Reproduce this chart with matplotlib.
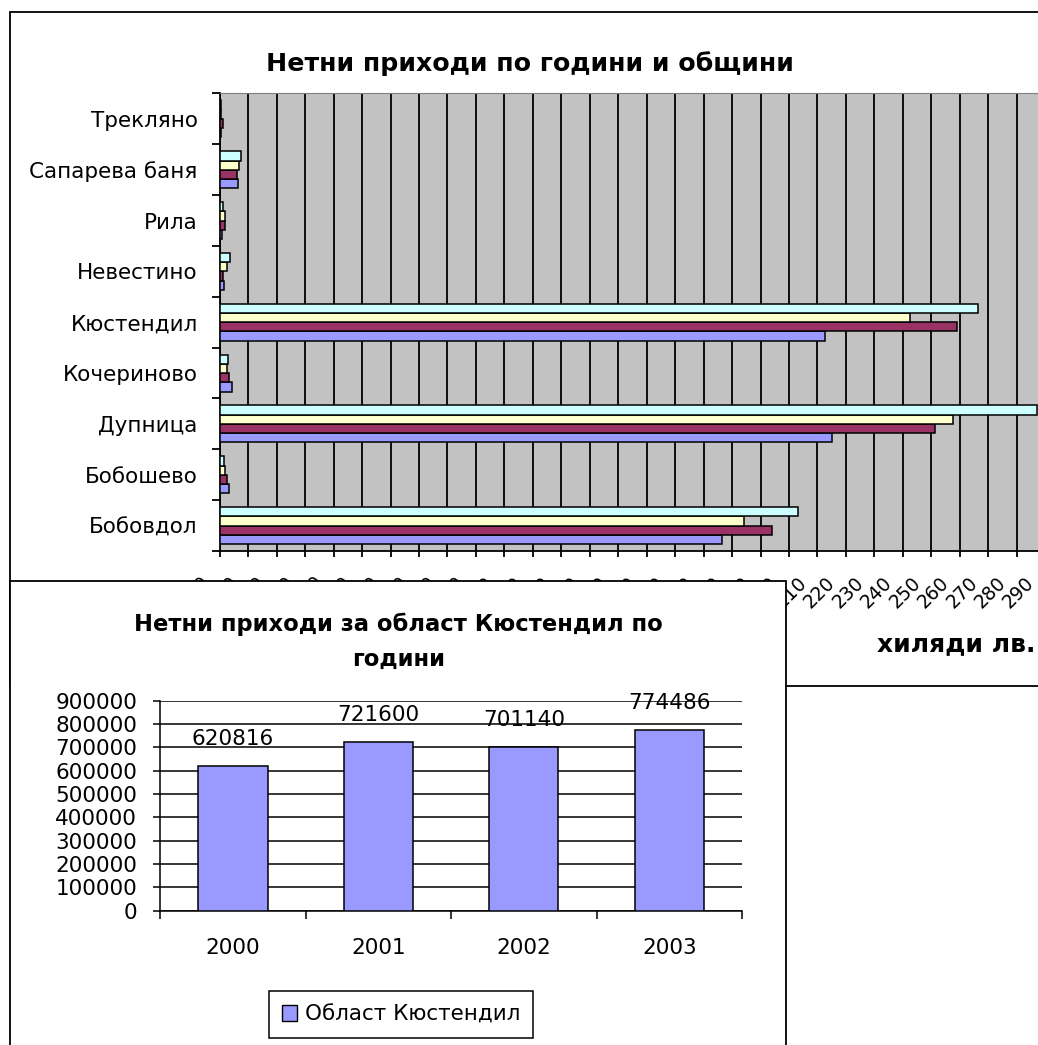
import matplotlib
matplotlib.use('Agg')
import matplotlib.pyplot as plt
from matplotlib.patches import Rectangle, Patch
from matplotlib.transforms import ScaledTranslation
from matplotlib.ticker import FuncFormatter
import numpy as np

plt.rcParams['font.family'] = ['DejaVu Sans']

# ---- data: top chart (thousand BGN) ----
municipalities = ['Бобовдол', 'Бобошево', 'Дупница', 'Кочериново', 'Кюстендил',
                  'Невестино', 'Рила', 'Сапарева баня', 'Трекляно']
series_years = ['2000', '2001', '2002', '2003']
v2000 = [176.5, 3.4, 215.2, 4.2, 212.8, 1.4, 0.6, 6.4, 0.3]
v2001 = [194.2, 2.7, 251.3, 3.3, 259.2, 1.2, 1.9, 6.1, 1.2]
v2002 = [184.2, 1.9, 257.8, 2.6, 242.5, 2.7, 1.8, 6.8, 0.3]
v2003 = [203.2, 1.5, 287.0, 2.8, 266.3, 3.5, 1.2, 7.6, 0.3]
series_colors = ['#9999FF', '#993366', '#FFFFCC', '#CCFFFF']
x_ticks_top = list(range(0, 291, 10))

# ---- data: bottom chart ----
region_years = ['2000', '2001', '2002', '2003']
region_totals = [620816, 721600, 701140, 774486]
region_label = 'Област Кюстендил'

W, H = 1038, 1045
fig = plt.figure(figsize=(W / 100, H / 100), dpi=100)


def fx(px):
    return px / W


def fy(py):
    return 1 - py / H


PX = 72 / 100  # points per pixel

# ---------------- top chart ----------------
fig.add_artist(Rectangle((fx(10), fy(686)), fx(1200) - fx(10), fy(11.5) - fy(686),
                         transform=fig.transFigure, facecolor='white',
                         edgecolor='black', linewidth=1.3, zorder=-1))

ax1 = fig.add_axes([fx(219.8), fy(551), (1073.6 - 219.8) / W, (551 - 93.5) / H], zorder=0)
n = len(municipalities)
y = np.arange(n)
h = 1 / 5.5
for s, (vals, col) in enumerate(zip([v2000, v2001, v2002, v2003], series_colors)):
    ax1.barh(y + (s - 1.5) * h, vals, height=h, color=col, edgecolor='black',
             linewidth=1.1, zorder=3, label=series_years[s])
ax1.set_xlim(0, 300)
ax1.set_ylim(-0.5, n - 0.5)
ax1.set_facecolor('#C2C2C2')
ax1.set_xticks(x_ticks_top)
ax1.set_xticklabels([str(t) for t in x_ticks_top], rotation=45, ha='right', va='top',
                    fontsize=13.5)
ax1.grid(axis='x', color='black', linewidth=1.3, zorder=1)
ax1.set_axisbelow(True)
ax1.set_yticks(y)
ax1.set_yticklabels(municipalities, fontsize=15.5)
ax1.set_yticks(np.arange(-0.5, n, 1), minor=True)
ax1.tick_params(axis='y', which='major', length=0, pad=22 * PX)
ax1.tick_params(axis='y', which='minor', length=8 * PX, width=1.3, direction='out')
ax1.tick_params(axis='x', which='major', length=6 * PX, width=1.3, direction='out',
                pad=16 * PX)
for sp in ['left', 'bottom']:
    ax1.spines[sp].set_color('black')
    ax1.spines[sp].set_linewidth(1.3)
ax1.spines['top'].set_color('#808080')
ax1.spines['right'].set_visible(False)
for lab in ax1.get_xticklabels():
    lab.set_transform(lab.get_transform() + ScaledTranslation(-7 / 100, 0, fig.dpi_scale_trans))

fig.text(fx(530), fy(64), 'Нетни приходи по години и общини', ha='center', va='center',
         fontsize=18.2, fontweight='bold')
fig.text(fx(1035), fy(644), 'хиляди лв.', ha='right', va='center', fontsize=18,
         fontweight='bold')

# ---------------- bottom chart ----------------
fig.add_artist(Rectangle((fx(10), fy(1200)), fx(786) - fx(10), fy(580.7) - fy(1200),
                         transform=fig.transFigure, facecolor='white',
                         edgecolor='black', linewidth=1.3, zorder=1))

ax2 = fig.add_axes([fx(160.2), fy(910.7), (742 - 160.2) / W, (910.7 - 700.7) / H], zorder=2)
ax2.patch.set_visible(False)
xb = np.arange(len(region_years))
ax2.bar(xb, region_totals, width=1 / 2.1, color='#9999FF', edgecolor='black',
        linewidth=1.1, zorder=3)
ax2.set_xlim(-0.5, len(region_years) - 0.5)
ax2.set_ylim(0, 900000)
ax2.set_yticks(np.arange(0, 900001, 100000))
ax2.yaxis.set_major_formatter(FuncFormatter(lambda v, p: f'{int(v)}'))
ax2.grid(axis='y', color='black', linewidth=1.1, zorder=1)
ax2.set_axisbelow(True)
ax2.set_xticks(xb)
ax2.set_xticklabels(region_years, fontsize=15.5)
ax2.set_xticks(np.arange(-0.5, len(region_years), 1), minor=True)
ax2.tick_params(axis='x', which='major', length=0, pad=27 * PX)
ax2.tick_params(axis='x', which='minor', length=8 * PX, width=1.1, direction='out')
ax2.tick_params(axis='y', which='major', length=7 * PX, width=1.1, direction='out',
                pad=16 * PX, labelsize=15.5)
for sp in ['left', 'bottom']:
    ax2.spines[sp].set_color('black')
    ax2.spines[sp].set_linewidth(1.1)
ax2.spines['top'].set_visible(False)
ax2.spines['right'].set_visible(False)
for xi, v in zip(xb, region_totals):
    ax2.annotate(str(v), (xi, v), xytext=(0, 27 * PX), textcoords='offset points',
                 ha='center', va='center', fontsize=15.5, zorder=4)

fig.text(fx(398), fy(624), 'Нетни приходи за област Кюстендил по', ha='center',
         va='center', fontsize=16.3, fontweight='bold')
fig.text(fx(399), fy(659), 'години', ha='center', va='center', fontsize=16.3,
         fontweight='bold')

leg = fig.legend(handles=[Patch(facecolor='#9999FF', edgecolor='black', label=region_label)],
                 loc='center', bbox_to_anchor=(fx(401), fy(1014.5)), frameon=True,
                 fancybox=False, edgecolor='black', framealpha=1, fontsize=15.5,
                 handlelength=0.7, handleheight=0.7, handletextpad=0.35,
                 borderpad=0.62, borderaxespad=0)
leg.get_frame().set_linewidth(1.1)
leg.set_zorder(5)

fig.savefig('out.png', dpi=100)
